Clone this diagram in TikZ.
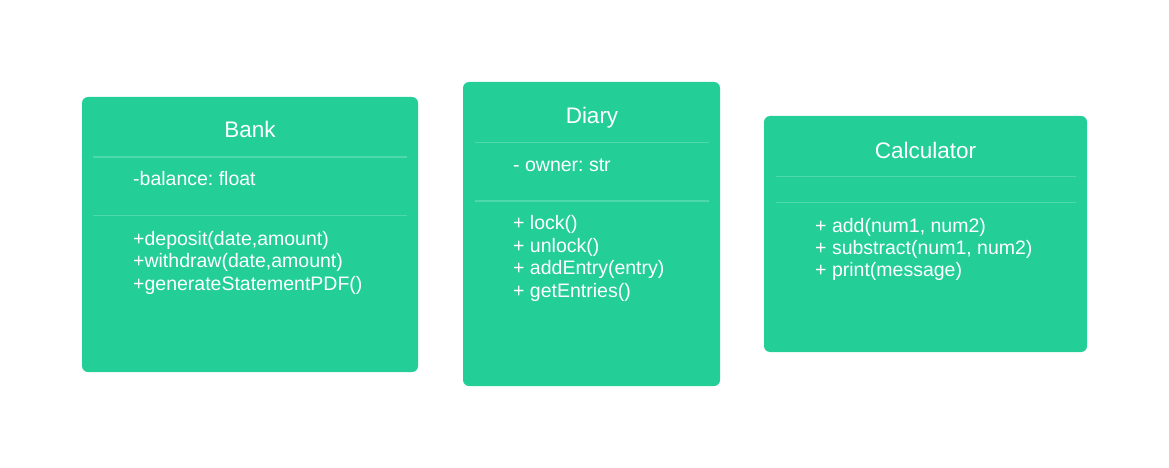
\documentclass[tikz,border=0pt]{standalone}
\usepackage{fontspec}
\setmainfont{Liberation Sans}
\frenchspacing
\definecolor{boxgreen}{HTML}{23CF96}
\tikzset{
  classbox/.style={fill=boxgreen, draw=none, rounded corners=6pt, inner sep=0pt},
  sepline/.style={draw=white, draw opacity=0.2, line width=1.2pt},
  titletext/.style={text=white, inner sep=0pt, anchor=base, font=\fontsize{22.5}{26}\selectfont},
  itemtext/.style={text=white, inner sep=0pt, anchor=base west, font=\fontsize{19.5}{22}\selectfont}
}
\begin{document}
\begin{tikzpicture}[x=1pt,y=-1pt]
\useasboundingbox (0,0) rectangle (1169,468);
% Bank
\path[classbox] (82,97) rectangle (418,372);
\coordinate (b1l) at (93,157); \coordinate (b1r) at (407,157);
\coordinate (b2l) at (93,215.5); \coordinate (b2r) at (407,215.5);
\draw[sepline] (b1l) -- (b1r);
\draw[sepline] (b2l) -- (b2r);
\node[titletext] (bankt) at (250,137.7) {Bank};
\node[itemtext] (banka) at (133,185.7) {-balance: float};
\node[itemtext] (bankm1) at (133,245.5) {+deposit(date,amount)};
\node[itemtext] (bankm2) at (133,267.8) {+withdraw(date,amount)};
\node[itemtext] (bankm3) at (133,290.1) {+generateStatementPDF()};
% Diary
\path[classbox] (463,82) rectangle (720,386);
\coordinate (d1l) at (475,142.5); \coordinate (d1r) at (709,142.5);
\coordinate (d2l) at (475,201); \coordinate (d2r) at (709,201);
\draw[sepline] (d1l) -- (d1r);
\draw[sepline] (d2l) -- (d2r);
\node[titletext] (diaryt) at (592,124) {Diary};
\node[itemtext] (diarya) at (513,171.7) {- owner: str};
\node[itemtext] (diarym1) at (513,229.3) {+ lock()};
\node[itemtext] (diarym2) at (513,252) {+ unlock()};
\node[itemtext] (diarym3) at (513,274.7) {+ addEntry(entry)};
\node[itemtext] (diarym4) at (513,297.4) {+ getEntries()};
% Calculator
\path[classbox] (764,116) rectangle (1087,352);
\coordinate (c1l) at (776,176.7); \coordinate (c1r) at (1076,176.7);
\coordinate (c2l) at (776,202.3); \coordinate (c2r) at (1076,202.3);
\draw[sepline] (c1l) -- (c1r);
\draw[sepline] (c2l) -- (c2r);
\node[titletext] (calct) at (925.5,158) {Calculator};
\node[itemtext] (calcm1) at (815,232.3) {+ add(num1, num2)};
\node[itemtext] (calcm2) at (815,254.6) {+ substract(num1, num2)};
\node[itemtext] (calcm3) at (815,276.9) {+ print(message)};
\end{tikzpicture}
\end{document}
